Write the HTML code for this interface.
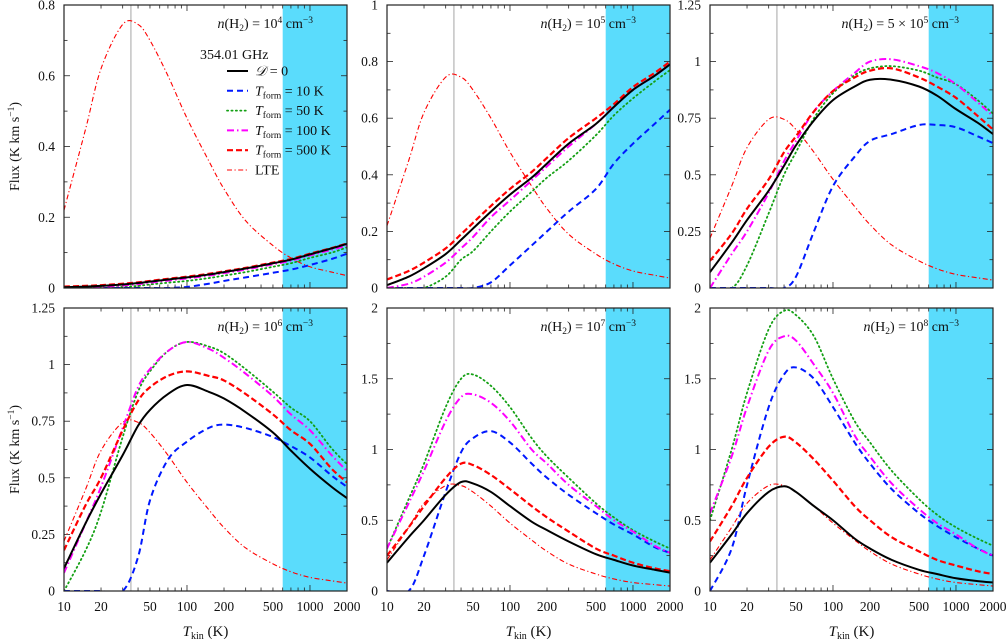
<!DOCTYPE html>
<html><head><meta charset="utf-8">
<style>
html,body{margin:0;padding:0;background:#fff;}
svg{display:block;font-family:"Liberation Serif",serif;}
</style></head>
<body>
<svg id="fig" width="1006" height="639" viewBox="0 0 1006 639" xmlns="http://www.w3.org/2000/svg"></svg>
<script>
const temps=[10,15,20,30,40,50,70,100,150,200,300,500,700,1000,1500,2000];
const lte=[0.22,0.45,0.62,0.745,0.745,0.70,0.60,0.48,0.36,0.28,0.19,0.12,0.085,0.06,0.045,0.035];
const xTicksLabels=[10,20,50,100,200,500,1000,2000];
const densities=["10<tspan dy='-5' font-size='9.5'>4</tspan>","10<tspan dy='-5' font-size='9.5'>5</tspan>","5 × 10<tspan dy='-5' font-size='9.5'>5</tspan>","10<tspan dy='-5' font-size='9.5'>6</tspan>","10<tspan dy='-5' font-size='9.5'>7</tspan>","10<tspan dy='-5' font-size='9.5'>8</tspan>"];
const yMaxes=[0.8,1,1.25,1.25,2,2];
const yTickLists=[[0,0.2,0.4,0.6,0.8],[0,0.2,0.4,0.6,0.8,1],[0,0.25,0.5,0.75,1,1.25],[0,0.25,0.5,0.75,1,1.25],[0,0.5,1,1.5,2],[0,0.5,1,1.5,2]];
// panel 1 n=1e4
const p1_d0=[0.002,0.004,0.006,0.01,0.014,0.018,0.024,0.03,0.038,0.045,0.055,0.07,0.08,0.095,0.112,0.125];
const p1_t10=[0,0,0,0,0,0,0,0.003,0.012,0.02,0.03,0.043,0.052,0.065,0.082,0.097];
const p1_t50=[0,0,0,0.003,0.006,0.01,0.015,0.02,0.028,0.035,0.045,0.06,0.07,0.085,0.1,0.115];
const p1_t100=[0,0.001,0.003,0.007,0.011,0.015,0.021,0.027,0.035,0.042,0.052,0.067,0.077,0.092,0.108,0.12];
const p1_t500=[0.004,0.006,0.008,0.012,0.016,0.02,0.026,0.032,0.04,0.047,0.057,0.072,0.082,0.097,0.113,0.126];
// panel 2 n=1e5
const p2_d0=[0.01,0.04,0.07,0.12,0.17,0.21,0.27,0.33,0.39,0.44,0.51,0.58,0.64,0.7,0.75,0.79];
const p2_t10=[0,0,0,0,0,0,0.02,0.08,0.15,0.2,0.27,0.35,0.44,0.51,0.58,0.63];
const p2_t50=[0,0,0,0.04,0.1,0.13,0.2,0.27,0.34,0.39,0.45,0.54,0.61,0.67,0.73,0.77];
const p2_t100=[0,0.015,0.04,0.09,0.14,0.18,0.25,0.31,0.38,0.43,0.5,0.58,0.64,0.7,0.75,0.79];
const p2_t500=[0.03,0.06,0.09,0.14,0.19,0.23,0.29,0.35,0.41,0.46,0.53,0.6,0.65,0.71,0.76,0.8];
// panel 3 n=5e5
const p3_d0=[0.07,0.2,0.3,0.43,0.54,0.63,0.74,0.83,0.89,0.92,0.92,0.89,0.85,0.79,0.73,0.68];
const p3_t10=[0,0,0,0,0,0.05,0.25,0.45,0.58,0.65,0.68,0.72,0.72,0.71,0.67,0.64];
const p3_t50=[0,0,0.1,0.33,0.5,0.6,0.75,0.86,0.94,0.97,0.98,0.96,0.93,0.9,0.83,0.77];
const p3_t100=[0,0.15,0.25,0.42,0.56,0.65,0.78,0.87,0.95,1.0,1.01,0.98,0.95,0.9,0.82,0.76];
const p3_t500=[0.12,0.24,0.35,0.48,0.6,0.67,0.78,0.87,0.93,0.96,0.97,0.93,0.89,0.84,0.76,0.7];
// panel 4 n=1e6
const p4_d0=[0.1,0.3,0.43,0.6,0.73,0.8,0.87,0.91,0.88,0.85,0.79,0.7,0.62,0.54,0.46,0.41];
const p4_t10=[0,0,0,0,0.15,0.4,0.58,0.66,0.72,0.735,0.72,0.68,0.64,0.59,0.51,0.46];
const p4_t50=[0,0.18,0.35,0.68,0.88,0.97,1.06,1.1,1.08,1.05,0.98,0.88,0.81,0.75,0.63,0.56];
const p4_t100=[0.08,0.3,0.46,0.72,0.9,0.98,1.06,1.1,1.07,1.03,0.96,0.86,0.78,0.71,0.6,0.53];
const p4_t500=[0.18,0.38,0.5,0.71,0.84,0.9,0.95,0.97,0.95,0.93,0.87,0.78,0.71,0.65,0.54,0.48];
// panel 5 n=1e7
const p5_d0=[0.2,0.38,0.5,0.68,0.77,0.76,0.7,0.6,0.49,0.43,0.35,0.26,0.22,0.18,0.15,0.13];
const p5_t10=[0,0,0.25,0.7,0.98,1.08,1.13,1.05,0.9,0.8,0.68,0.55,0.47,0.4,0.31,0.27];
const p5_t50=[0.3,0.65,0.9,1.3,1.5,1.53,1.45,1.3,1.08,0.95,0.8,0.62,0.52,0.43,0.35,0.3];
const p5_t100=[0.3,0.62,0.85,1.2,1.37,1.39,1.33,1.2,1.0,0.9,0.75,0.6,0.5,0.42,0.32,0.27];
const p5_t500=[0.25,0.45,0.6,0.8,0.9,0.89,0.82,0.72,0.6,0.52,0.42,0.3,0.25,0.2,0.16,0.14];
// panel 6 n=1e8
const p6_d0=[0.2,0.4,0.55,0.7,0.74,0.7,0.6,0.5,0.37,0.3,0.22,0.15,0.12,0.09,0.07,0.06];
const p6_t10=[0,0.3,0.75,1.3,1.53,1.58,1.5,1.3,1.05,0.9,0.72,0.55,0.46,0.38,0.3,0.25];
const p6_t50=[0.5,1.0,1.4,1.85,1.98,1.95,1.8,1.5,1.2,1.05,0.85,0.65,0.54,0.45,0.37,0.32];
const p6_t100=[0.55,0.95,1.3,1.7,1.8,1.77,1.6,1.4,1.1,0.95,0.76,0.58,0.48,0.4,0.3,0.25];
const p6_t500=[0.35,0.6,0.8,1.02,1.09,1.05,0.93,0.78,0.6,0.5,0.38,0.28,0.22,0.18,0.14,0.12];

const panels=[
 [p1_d0,p1_t10,p1_t50,p1_t100,p1_t500],[p2_d0,p2_t10,p2_t50,p2_t100,p2_t500],[p3_d0,p3_t10,p3_t50,p3_t100,p3_t500],
 [p4_d0,p4_t10,p4_t50,p4_t100,p4_t500],[p5_d0,p5_t10,p5_t50,p5_t100,p5_t500],[p6_d0,p6_t10,p6_t50,p6_t100,p6_t500]];
const seriesNames=["d-zero","tform-10k","tform-50k","tform-100k","tform-500k"];
const styles=[
 {c:"#000",w:2,d:""},{c:"#0018ff",w:2,d:"6,4"},{c:"#14a014",w:1.8,d:"1.2,3.2"},
 {c:"#ff00ff",w:2,d:"7,3,1.5,3"},{c:"#ff0000",w:2.2,d:"6,3"}];
const lteStyle={c:"#ff0000",w:1.1,d:"5,2.5,1.2,2.5"};

const NS="http://www.w3.org/2000/svg";
const svg=document.getElementById('fig');
function mk(tag,attrs,parent){const e=document.createElementNS(NS,tag);for(const k in attrs)e.setAttribute(k,attrs[k]);(parent||svg).appendChild(e);return e;}
const colX=[64,387,710], rowY=[5,308], W=283, H=283;
const xMin=Math.log10(10), xMax=Math.log10(2000);

function pathFrom(pts){
 let d="M"+pts[0][0].toFixed(2)+","+pts[0][1].toFixed(2);
 for(let i=0;i<pts.length-1;i++){
  const p0=pts[Math.max(0,i-1)],p1=pts[i],p2=pts[i+1],p3=pts[Math.min(pts.length-1,i+2)];
  const c1=[p1[0]+(p2[0]-p0[0])/6,p1[1]+(p2[1]-p0[1])/6];
  const c2=[p2[0]-(p3[0]-p1[0])/6,p2[1]-(p3[1]-p1[1])/6];
  d+="C"+c1[0].toFixed(2)+","+c1[1].toFixed(2)+" "+c2[0].toFixed(2)+","+c2[1].toFixed(2)+" "+p2[0].toFixed(2)+","+p2[1].toFixed(2);
 }
 return d;
}

for(let p=0;p<6;p++){
 const x0=colX[p%3], y0=rowY[Math.floor(p/3)], ymax=yMaxes[p];
 const sx=t=>x0+(Math.log10(t)-xMin)/(xMax-xMin)*W;
 const sy=v=>y0+H-v/ymax*H;
 const g=mk('g',{});
 
 
 const cp=mk('clipPath',{id:'cp'+p},g);
 mk('rect',{x:x0,y:y0,width:W,height:H},cp);
 const band=mk('rect',{x:sx(600),y:y0,width:x0+W-sx(600),height:H,fill:'#5adcfc'},g);
 
 
 const vl=mk('line',{x1:sx(35),x2:sx(35),y1:y0,y2:y0+H,stroke:'#b4b4b4','stroke-width':1.2},g);
 
 
 const tickG=mk('g',{stroke:'#222','stroke-width':0.8},g);
 for(let dec=10;dec<=1000;dec*=10){for(let m=1;m<10;m++){const t=dec*m;if(t>2000)break;const L=(m==1)?6:3.5;const x=sx(t);
   mk('line',{x1:x,x2:x,y1:y0+H,y2:y0+H-L},tickG);mk('line',{x1:x,x2:x,y1:y0,y2:y0+L},tickG);}}
 const yt=yTickLists[p];const step=yt[1]-yt[0];
 for(let v=0;v<=ymax+1e-9;v+=step/2){const major=Math.abs(v/step-Math.round(v/step))<1e-6;const L=major?6:3.5;const y=sy(v);
   mk('line',{x1:x0,x2:x0+L,y1:y,y2:y},tickG);mk('line',{x1:x0+W,x2:x0+W-L,y1:y,y2:y},tickG);}
 yt.forEach(v=>{const t=mk('text',{x:x0-9,y:sy(v)+4.5,'text-anchor':'end','font-size':13.5,fill:'#111'},g);t.textContent=String(v);
   });
 if(p>=3){xTicksLabels.forEach(v=>{const t=mk('text',{x:sx(v),y:y0+H+20,'text-anchor':'middle','font-size':13.5,fill:'#111'},g);t.textContent=String(v);
   });
   const xt=mk('text',{x:x0+W/2,y:y0+H+45,'text-anchor':'middle','font-size':15,fill:'#111'},g);
   xt.innerHTML="<tspan font-style='italic'>T</tspan><tspan font-size='10' dy='3'>kin</tspan><tspan dy='-3'>  (K)</tspan>";
   }
 if(p%3==0){const yt2=mk('text',{x:0,y:0,'text-anchor':'middle','font-size':14,fill:'#111',transform:`translate(19,${y0+H/2}) rotate(-90)`},g);
   yt2.innerHTML="Flux  (K km s<tspan dy='-5' font-size='9.5'>−1</tspan><tspan dy='5'>)</tspan>";
   }
 const sg=mk('g',{'clip-path':`url(#cp${p})`,fill:'none'},g);
 const lp=mk('path',{d:pathFrom(temps.map((t,i)=>[sx(t),sy(lte[i])])),stroke:lteStyle.c,'stroke-width':lteStyle.w,'stroke-dasharray':lteStyle.d},sg);
 
 
 [2,1,3,4,0].forEach(si=>{const s=styles[si];const vals=panels[p][si];
  const e=mk('path',{d:pathFrom(temps.map((t,i)=>[sx(t),sy(vals[i])])),stroke:s.c,'stroke-width':s.w,'stroke-dasharray':s.d,'stroke-linecap':si==2?'round':'butt'},sg);
  
  });
 mk('rect',{x:x0,y:y0,width:W,height:H,fill:'none',stroke:'#222','stroke-width':1.2},g);
 const ti=mk('text',{x:x0+W-34,y:y0+23,'text-anchor':'end','font-size':14,fill:'#111'},g);
 ti.innerHTML="<tspan font-style='italic'>n</tspan>(H<tspan font-size='9.5' dy='3'>2</tspan><tspan dy='-3'>) =  "+densities[p]+"</tspan><tspan dy='5'> cm</tspan><tspan dy='-5' font-size='9.5'>−3</tspan>";
 
 
}
const lg=mk('g',{});


const lt=mk('text',{x:200,y:59,'font-size':14,fill:'#111'},lg);lt.textContent="354.01 GHz";
const legLabels=["<tspan font-style='italic'>𝒟</tspan> = 0",
 "<tspan font-style='italic'>T</tspan><tspan font-size='9.5' dy='3'>form</tspan><tspan dy='-3'> = 10 K</tspan>",
 "<tspan font-style='italic'>T</tspan><tspan font-size='9.5' dy='3'>form</tspan><tspan dy='-3'> = 50 K</tspan>",
 "<tspan font-style='italic'>T</tspan><tspan font-size='9.5' dy='3'>form</tspan><tspan dy='-3'> = 100 K</tspan>",
 "<tspan font-style='italic'>T</tspan><tspan font-size='9.5' dy='3'>form</tspan><tspan dy='-3'> = 500 K</tspan>","LTE"];
const legStyles=[styles[0],styles[1],styles[2],styles[3],styles[4],lteStyle];
for(let i=0;i<6;i++){const y=71+i*19.8;const s=legStyles[i];
 const e=mk('g',{},lg);
 
 
 mk('line',{x1:227,x2:248,y1:y,y2:y,stroke:s.c,'stroke-width':s.w,'stroke-dasharray':s.d,'stroke-linecap':i==2?'round':'butt'},e);
 const t=mk('text',{x:255,y:y+4.5,'font-size':14,fill:'#111'},e);t.innerHTML=legLabels[i];}
</script>
</body></html>
